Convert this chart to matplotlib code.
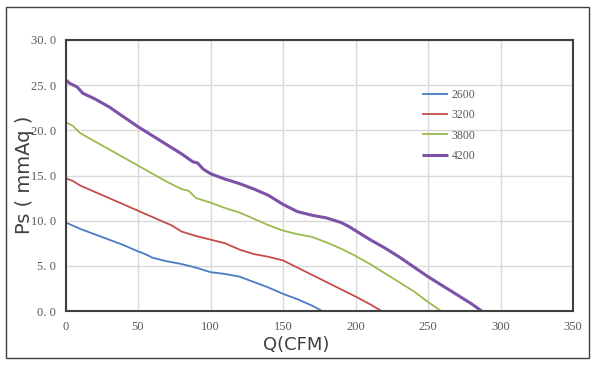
import matplotlib
matplotlib.use("Agg")
import matplotlib.pyplot as plt
import matplotlib.patches as mpatches

# ---- data ----
q_2600 = [0, 3, 10, 20, 30, 40, 50, 55, 60, 70, 80, 90, 100, 110, 120, 130, 140, 150, 160, 170, 177]
p_2600 = [9.8, 9.6, 9.1, 8.5, 7.9, 7.3, 6.6, 6.3, 5.9, 5.5, 5.2, 4.8, 4.3, 4.1, 3.8, 3.2, 2.6, 1.9, 1.3, 0.6, 0.0]

q_3200 = [0, 5, 10, 20, 30, 40, 50, 60, 70, 73, 80, 90, 100, 110, 120, 130, 140, 150, 160, 170, 180, 190, 200, 210, 218]
p_3200 = [14.7, 14.4, 13.9, 13.2, 12.5, 11.8, 11.1, 10.4, 9.7, 9.5, 8.8, 8.3, 7.9, 7.5, 6.8, 6.3, 6.0, 5.6, 4.8, 4.0, 3.2, 2.4, 1.6, 0.75, 0.0]

q_3800 = [0, 5, 10, 20, 30, 40, 50, 60, 70, 80, 85, 90, 100, 110, 120, 130, 140, 150, 160, 170, 180, 190, 200, 210, 220, 230, 240, 250, 259]
p_3800 = [20.9, 20.5, 19.7, 18.8, 17.9, 17.0, 16.1, 15.2, 14.3, 13.5, 13.3, 12.5, 12.0, 11.4, 10.9, 10.2, 9.5, 8.9, 8.5, 8.2, 7.6, 6.9, 6.1, 5.2, 4.2, 3.2, 2.2, 1.0, 0.0]

q_4200 = [0, 3, 8, 12, 20, 30, 40, 50, 60, 70, 80, 88, 91, 95, 100, 110, 120, 130, 140, 150, 160, 170, 180, 190, 196, 200, 210, 220, 230, 240, 250, 260, 270, 280, 287]
p_4200 = [25.6, 25.2, 24.8, 24.1, 23.5, 22.6, 21.5, 20.4, 19.4, 18.4, 17.4, 16.5, 16.4, 15.7, 15.2, 14.6, 14.1, 13.5, 12.8, 11.8, 11.0, 10.6, 10.3, 9.8, 9.3, 8.9, 7.9, 7.0, 6.0, 4.9, 3.8, 2.8, 1.8, 0.8, 0.0]

series_labels = ["2600", "3200", "3800", "4200"]
x_ticks = [0, 50, 100, 150, 200, 250, 300, 350]
y_ticks = [0, 5, 10, 15, 20, 25, 30]
y_tick_labels = ["0. 0", "5. 0", "10. 0", "15. 0", "20. 0", "25. 0", "30. 0"]

colors = ["#4a7cc4", "#c44d4a", "#9bbb4f", "#7b52a8"]
widths = [1.3, 1.3, 1.3, 2.2]

fig = plt.figure(figsize=(5.95, 3.70), dpi=100)
fig.patches.append(mpatches.Rectangle((6/595, 1 - 358/370), (589-6)/595, (358-7)/370,
                                      transform=fig.transFigure, fill=False,
                                      edgecolor="#404040", linewidth=1.0))
ax = fig.add_axes([65.5/595, 1 - 311/370, (573-65.5)/595, (311-40)/370])

data = [(q_2600, p_2600), (q_3200, p_3200), (q_3800, p_3800), (q_4200, p_4200)]
for (q, p), lab, c, w in zip(data, series_labels, colors, widths):
    ax.plot(q, p, color=c, lw=w, label=lab, solid_capstyle="butt")

ax.set_xlim(0, 350)
ax.set_ylim(0, 30)
ax.set_xticks(x_ticks)
ax.set_xticklabels([str(t) for t in x_ticks])
ax.set_yticks(y_ticks)
ax.set_yticklabels(y_tick_labels)
ax.grid(True, color="#d9d9d9", lw=1.0)
ax.set_axisbelow(True)
ax.tick_params(length=0, labelsize=9, colors="#595959", pad=7)
for lbl in ax.get_xticklabels() + ax.get_yticklabels():
    lbl.set_family("Liberation Serif")
for s in ax.spines.values():
    s.set_color("#404040")
    s.set_linewidth(1.5)

fig.text(24/595, 1 - 175/370, "Ps ( mmAq )", rotation=90, ha="center", va="center",
         fontsize=14, color="#404040", family="DejaVu Sans")
fig.text(296/595, 1 - 345/370, "Q(CFM)", ha="center", va="center",
         fontsize=13, color="#404040", family="DejaVu Sans")

leg = ax.legend(loc="upper left", bbox_to_anchor=(422/595, 1 - 89/370),
                bbox_transform=fig.transFigure, frameon=False,
                prop={"family": "Liberation Serif", "size": 8.5},
                handlelength=2.2, handletextpad=0.3, labelspacing=0.7,
                borderaxespad=0, borderpad=0)
for t in leg.get_texts():
    t.set_color("#595959")

fig.savefig("out.png", dpi=100)
